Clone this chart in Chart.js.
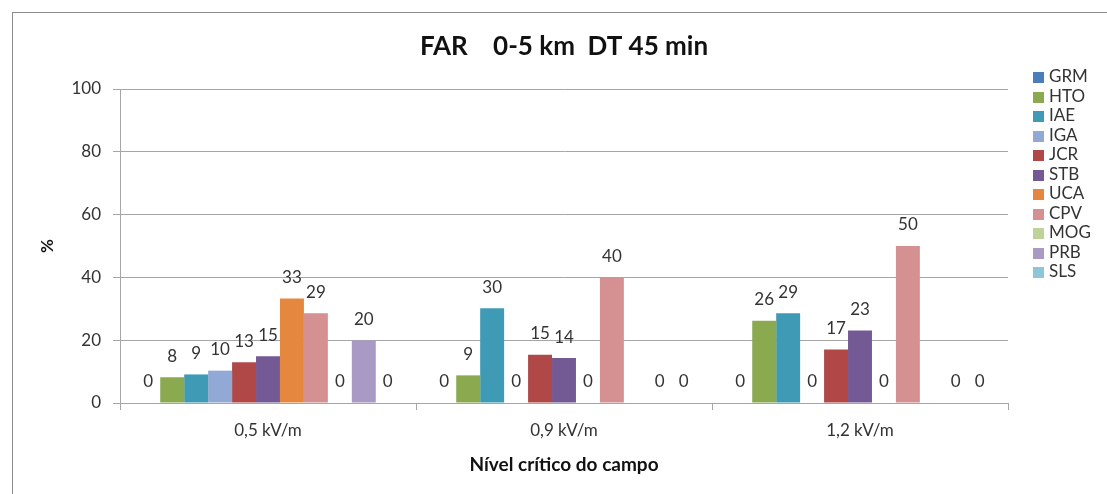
<!DOCTYPE html>
<html>
<head>
<meta charset="utf-8">
<script src="https://cdn.jsdelivr.net/npm/chart.js@4"></script>
<style>
    html, body { margin: 0; padding: 0; background: #fff; overflow: hidden; }
    #wrap { position: relative; width: 1107px; height: 494px; }
    #frame { position: absolute; left: 12px; top: 12px; width: 1200px; height: 600px; border: 1px solid #8c8c8c; }
    #chart { position: absolute; left: 0; top: 0; }
    #legend { position: absolute; left: 1033px; top: 66px; margin: 0; padding: 0; list-style: none;
              font-family: Lato, sans-serif; font-size: 17px; color: #333; }
    #legend li { height: 19.5px; line-height: 19.5px; white-space: nowrap; }
    #legend span { display: inline-block; width: 11px; height: 11px; margin-right: 5px; vertical-align: -1px; }
</style>
</head>
<body>
<div id="wrap">
    <div id="frame"></div>
    <canvas id="chart" width="1107" height="494"></canvas>
    <ul id="legend"></ul>
</div>
<script>
const categories = ["0,5 kV/m", "0,9 kV/m", "1,2 kV/m"];
const seriesNames = ["GRM", "HTO", "IAE", "IGA", "JCR", "STB", "UCA", "CPV", "MOG", "PRB", "SLS"];
const seriesColors = ["#4A7EBB", "#8BAA4F", "#3F9BB5", "#93A9D5", "#B04848", "#735A95",
                      "#E5873E", "#D59192", "#BDD39A", "#A89AC4", "#8DC5D9"];

// valores (%) por nível crítico
const GRM = [0, 0, 0];
const HTO = [8.2, 8.8, 26.2];
const IAE = [9.1, 30.2, 28.6];
const IGA = [10.3, 0, 0];
const JCR = [13.0, 15.4, 17.0];
const STB = [14.9, 14.3, 23.1];
const UCA = [33.3, 0, 0];
const CPV = [28.6, 40, 50];
const MOG = [0, null, null];
const PRB = [20, 0, 0];
const SLS = [0, 0, 0];

const seriesValues = [GRM, HTO, IAE, IGA, JCR, STB, UCA, CPV, MOG, PRB, SLS];
const yTicks = [0, 20, 40, 60, 80, 100];

const FONT = "Lato, sans-serif";
const gridGray = "#a6a6a6";

// rótulos de valor acima das barras
const valueLabels = {
    id: "valueLabels",
    afterDatasetsDraw(chart) {
        const ctx = chart.ctx;
        ctx.save();
        ctx.font = "17px " + FONT;
        ctx.fillStyle = "#333";
        ctx.textAlign = "center";
        ctx.textBaseline = "middle";
        chart.data.datasets.forEach((ds, i) => {
            const meta = chart.getDatasetMeta(i);
            meta.data.forEach((bar, j) => {
                const v = ds.data[j];
                if (v === null || v === undefined) return;
                ctx.fillText(String(Math.round(v)), bar.x, bar.y - 21);
            });
        });
        ctx.restore();
    }
};

const datasets = seriesNames.map((name, i) => ({
    label: name,
    data: seriesValues[i],
    backgroundColor: seriesColors[i],
    borderWidth: 0
}));

Chart.defaults.font.family = FONT;
Chart.defaults.color = "#333";

new Chart(document.getElementById("chart"), {
    type: "bar",
    data: { labels: categories, datasets: datasets },
    plugins: [valueLabels],
    options: {
        responsive: false,
        animation: false,
        layout: { padding: { left: 12, right: 99, top: 0, bottom: 18 } },
        datasets: { bar: { categoryPercentage: 0.89, barPercentage: 1.0 } },
        plugins: {
            legend: { display: false },
            tooltip: { enabled: false },
            title: {
                display: true,
                fullSize: false,
                text: "FAR    0-5 km  DT 45 min",
                color: "#111",
                font: { size: 26, weight: "bold" },
                padding: { top: 31.4, bottom: 26.4 }
            }
        },
        scales: {
            x: {
                grid: { display: true, drawOnChartArea: false, drawTicks: true, tickLength: 7, color: gridGray, offset: true },
                border: { display: true, color: gridGray },
                ticks: { font: { size: 17 }, color: "#333", padding: 10 },
                title: { display: true, text: "Nível crítico do campo", color: "#111",
                         font: { size: 19, weight: "bold" }, padding: { top: 5, bottom: 0 } },
                afterFit(scale) { scale.height = 73; }
            },
            y: {
                min: 0,
                max: 100,
                afterBuildTicks(scale) { scale.ticks = yTicks.map(v => ({ value: v })); },
                grid: { color: gridGray, drawTicks: true, tickLength: 7 },
                border: { display: true, color: gridGray },
                ticks: { font: { size: 17 }, color: "#333", padding: 12 },
                title: { display: true, text: "%", color: "#111",
                         font: { size: 17, weight: "bold" }, padding: { top: 25.8, bottom: 0 } },
                afterFit(scale) { scale.width = 108; }
            }
        }
    }
});

// legenda em HTML
const legend = document.getElementById("legend");
seriesNames.forEach((name, i) => {
    const li = document.createElement("li");
    li.innerHTML = `<span style="background:${seriesColors[i]}"></span>${name}`;
    legend.appendChild(li);
});
</script>
</body>
</html>
